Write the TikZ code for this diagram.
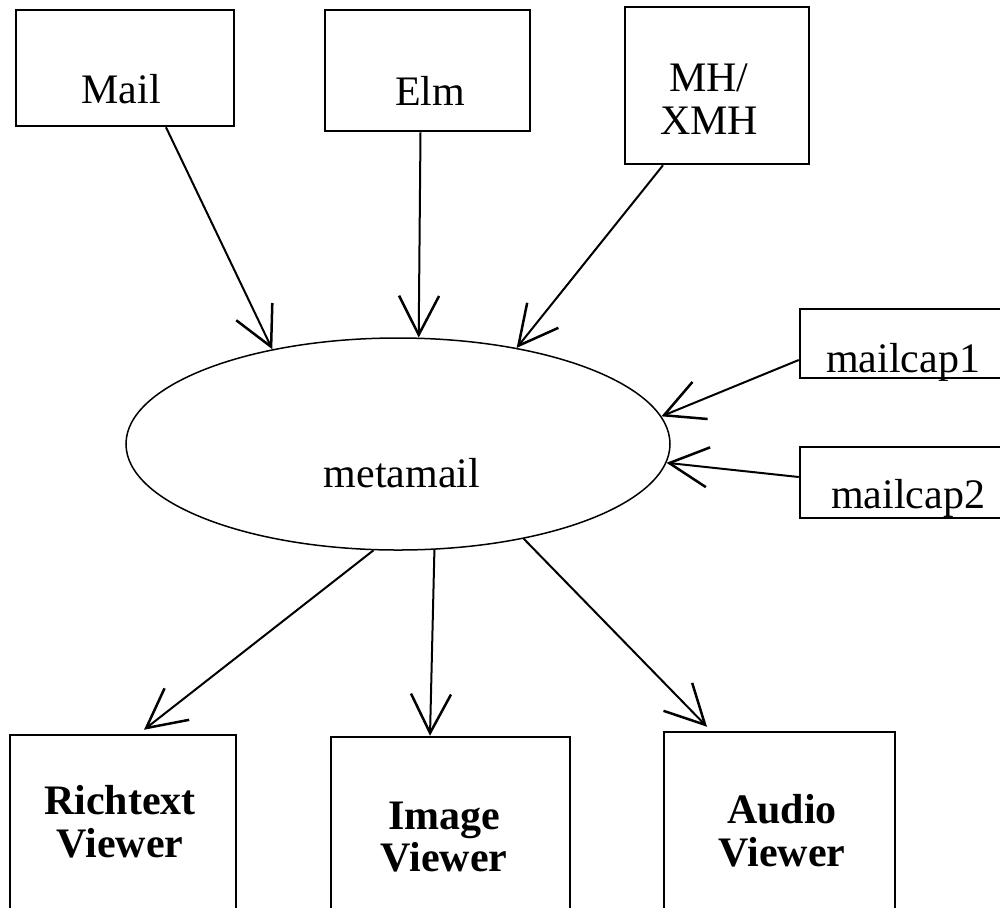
\documentclass[tikz,border=0pt]{standalone}
\usepackage{fontspec}
\setmainfont{Liberation Serif}
\usetikzlibrary{arrows.meta,shapes.geometric}

\begin{document}
\begin{tikzpicture}[x=0.2mm,y=-0.2mm,
    box/.style={draw,line width=0.5mm,inner sep=0pt},
    lbl/.style={font=\fontsize{23.9}{24.4}\selectfont,align=center,inner sep=0pt},
    blbl/.style={lbl,font=\fontsize{23.9}{24.4}\selectfont\bfseries},
    arr/.style={line width=0.4mm,-{Straight Barb[length=7.8mm,width=8mm,line width=0.5mm]}}]
            \clip (0,0) rectangle (1000,907);
            \node[box,minimum width=43.6mm,minimum height=23.2mm] (mail) at (125,68) {};
            \node[box,minimum width=41mm,minimum height=24.2mm] (elm) at (427.5,70.5) {};
            \node[box,minimum width=36.8mm,minimum height=31.4mm] (mh) at (717,85.5) {};
            \node[draw,ellipse,line width=0.3mm,inner sep=0pt,minimum width=108.8mm,minimum height=42.4mm] (meta) at (398,444) {};
            \node[box,minimum width=42mm,minimum height=13.8mm] (cap1) at (905,343.5) {};
            \node[box,minimum width=42mm,minimum height=14.2mm] (cap2) at (905,482.5) {};
            \node[box,minimum width=45.2mm,minimum height=35mm] (rich) at (123,822.5) {};
            \node[box,minimum width=47.8mm,minimum height=34.6mm] (image) at (450.5,823.5) {};
            \node[box,minimum width=46.2mm,minimum height=35.6mm] (audio) at (779.5,821) {};
            \node[lbl,anchor=base] (mail-t) at (121,103) {Mail};
            \node[lbl,anchor=base] (elm-t) at (430,105) {Elm};
            \node[lbl] (mh-t) at (709,99.5) {MH/\\XMH};
            \node[lbl,anchor=base] (meta-t) at (402,487) {metamail};
            \node[lbl,anchor=base] (cap1-t) at (903,372) {mailcap1};
            \node[lbl,anchor=base] (cap2-t) at (908,508) {mailcap2};
            \node[blbl] (rich-t) at (120,821.5) {Richtext\\Viewer};
            \node[blbl] (image-t) at (444,837) {Image\\Viewer};
            \node[blbl] (audio-t) at (782,830.5) {Audio\\Viewer};
            \draw[arr] ([xshift=8.2mm]mail.south) -- (meta.143);
            \draw[arr] ([xshift=-1.4mm]elm.south) -- (meta.79);
            \draw[arr] ([xshift=-10.8mm]mh.south) -- (meta.39);
            \draw[arr] ([yshift=-3.3mm]cap1.west) -- (meta.6);
            \draw[arr] ([yshift=1.1mm]cap2.west) -- (meta.-4);
            \draw[arr] (meta.-103) -- ([xshift=4.2mm,yshift=0.8mm]rich.north);
            \draw[arr] (meta.-71) -- ([xshift=-4.1mm]image.north);
            \draw[arr] (meta.-37) -- ([xshift=-14.5mm,yshift=0.8mm]audio.north);
\end{tikzpicture}
\end{document}
